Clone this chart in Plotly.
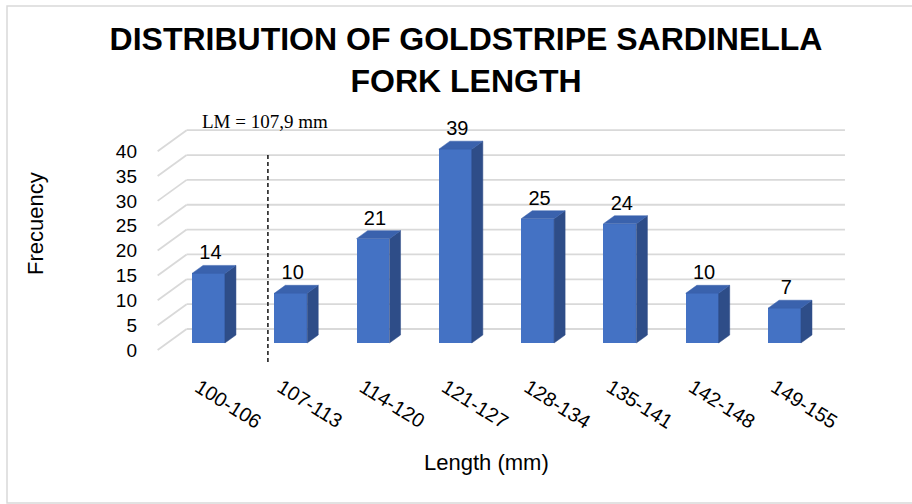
import plotly.graph_objects as go

# ---- data ----
categories = ["100-106", "107-113", "114-120", "121-127", "128-134", "135-141", "142-148", "149-155"]
frequency = [14, 10, 21, 39, 25, 24, 10, 7]
y_ticks = [0, 5, 10, 15, 20, 25, 30, 35, 40]
lm_text = "LM = 107,9 mm"
title_text = "DISTRIBUTION OF GOLDSTRIPE SARDINELLA<br>FORK LENGTH"
x_title = "Length (mm)"
y_title = "Frecuency"

# ---- pseudo-3D geometry (axis units) ----
DX = 0.3524      # depth shift along x (category units)
DY = 4.225       # depth shift along y (value units)
D0, D1 = 0.333, 0.714   # bar front / back depth fraction
W = 0.40         # bar width
LM_POS = 0.84    # position of LM marker on category axis

FRONT = "#4472C4"
TOP = "#3A62AD"
SIDE = "#2E4D88"
GRID = "#D9D9D9"
FONT = "Liberation Sans, Arial, sans-serif"

idx = list(range(len(categories)))
b0 = DY * D0
ddx = DX * (D1 - D0)
ddy = DY * (D1 - D0)

top_x, top_y, side_x, side_y = [], [], [], []
for i, v in zip(idx, frequency):
    xl = i + DX * D0 - W / 2
    xr = xl + W
    top_x += [xl, xr, xr + ddx, xl + ddx, xl, None]
    top_y += [v + b0, v + b0, v + b0 + ddy, v + b0 + ddy, v + b0, None]
    side_x += [xr, xr + ddx, xr + ddx, xr, xr, None]
    side_y += [b0, b0 + ddy, v + b0 + ddy, v + b0, b0, None]

fig = go.Figure()

fig.add_trace(go.Bar(
    x=[i + DX * D0 for i in idx], y=frequency, base=b0, width=W,
    marker=dict(color=FRONT, line=dict(width=0)), showlegend=False,
    hoverinfo="skip"))

fig.add_trace(go.Scatter(
    x=side_x, y=side_y, mode="lines", fill="toself", fillcolor=SIDE,
    line=dict(color=SIDE, width=0.5), showlegend=False, hoverinfo="skip"))
fig.add_trace(go.Scatter(
    x=top_x, y=top_y, mode="lines", fill="toself", fillcolor=TOP,
    line=dict(color=TOP, width=0.5), showlegend=False, hoverinfo="skip"))

fig.add_trace(go.Scatter(
    x=[i + DX * 0.4 for i in idx], y=[v + DY * D1 + 2.2 for v in frequency],
    mode="text", text=[str(v) for v in frequency],
    textfont=dict(family=FONT, size=20, color="#000000"),
    textposition="middle center", cliponaxis=False, showlegend=False,
    hoverinfo="skip"))

shapes = []
x_lo, x_hi = -0.5, len(categories) - 0.5
for v in y_ticks:
    shapes.append(dict(type="line", xref="x", yref="y", layer="below",
                       x0=x_lo + DX, x1=x_hi + DX, y0=v + DY, y1=v + DY,
                       line=dict(color=GRID, width=1.8)))
    shapes.append(dict(type="line", xref="x", yref="y", layer="below",
                       x0=x_lo, x1=x_lo + DX, y0=v, y1=v + DY,
                       line=dict(color=GRID, width=1.8)))
# LM dashed marker
shapes.append(dict(type="line", xref="x", yref="y", layer="above",
                   x0=LM_POS, x1=LM_POS, y0=-2.4, y1=39.6,
                   line=dict(color="#000000", width=1.4, dash="4px,3px")))
# chart border
shapes.append(dict(type="rect", xref="paper", yref="paper", layer="below",
                   x0=-0.2014, x1=1.0775, y0=-0.552, y1=1.436,
                   line=dict(color=GRID, width=1.5)))

annotations = [
    dict(text=lm_text, xref="x", yref="y", x=0.80, y=45.9, showarrow=False,
         xanchor="center", yanchor="middle",
         font=dict(family="Liberation Serif, Times New Roman, serif", size=19, color="#000000")),
    dict(text=y_title, xref="paper", yref="paper", x=-0.162, y=0.568, showarrow=False,
         xanchor="center", yanchor="middle",
         textangle=-90, font=dict(family=FONT, size=22, color="#000000")),
    dict(text=x_title, xref="paper", yref="paper", x=0.4746, y=-0.388, showarrow=False,
         xanchor="center", yanchor="middle",
         font=dict(family=FONT, size=22, color="#000000")),
]

fig.update_layout(
    width=912, height=504,
    margin=dict(l=150, r=52, t=115, b=139),
    paper_bgcolor="white", plot_bgcolor="white",
    title=dict(text="<b>" + title_text + "</b>", x=466 / 912, xanchor="center",
               y=1 - 50 / 504, yanchor="middle", yref="container",
               font=dict(family=FONT, size=32, color="#000000")),
    xaxis=dict(range=[-0.593, 8.035], tickvals=idx, ticktext=categories,
               tickangle=32, showgrid=False, zeroline=False, showline=False,
               ticks="", ticklabelstandoff=6,
               tickfont=dict(family=FONT, size=20, color="#000000")),
    yaxis=dict(range=[-3.018, 47.28], tickvals=y_ticks, showgrid=False,
               zeroline=False, showline=False, ticks="", ticklabelstandoff=12,
               tickfont=dict(family=FONT, size=19, color="#000000")),
    shapes=shapes, annotations=annotations, bargap=0, showlegend=False,
)

fig.write_html("out.html", post_script="document.body.style.margin='0';",
               config={"displayModeBar": False})
